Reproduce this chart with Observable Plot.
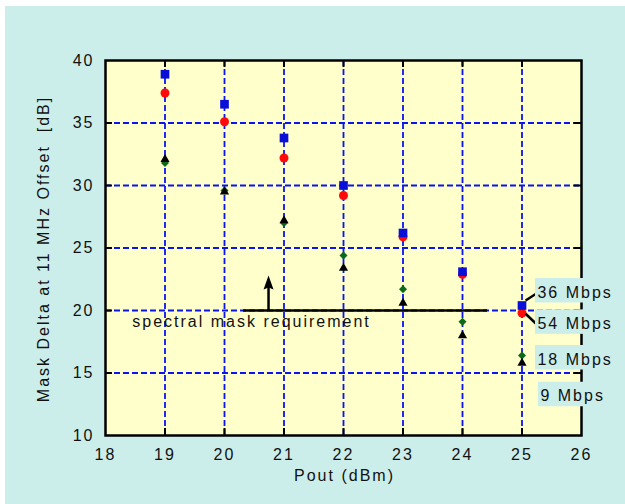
<!DOCTYPE html>
<html><head><meta charset="utf-8">
<script src="https://cdn.jsdelivr.net/npm/d3@7"></script>
<script src="https://cdn.jsdelivr.net/npm/@observablehq/plot@0.6"></script>
<style>
html,body{margin:0;padding:0;background:#fff;}
#wrap{position:relative;width:625px;height:504px;overflow:hidden;}
#bg{position:absolute;left:5px;top:6px;width:620px;height:498px;background:#CCEEEB;}
#chart{position:absolute;left:0;top:0;}
#chart svg text{letter-spacing:2px;white-space:pre;}
</style></head><body>
<div id="wrap"><div id="bg"></div><div id="chart"></div></div>
<script>
// ---- data ----
const pout   = [19, 20, 21, 22, 23, 24, 25];
const mbps36 = [38.9, 36.5, 33.8, 30.0, 26.2, 23.1, 20.4];
const mbps54 = [37.4, 35.1, 32.2, 29.2, 25.9, 22.9, 19.8];
const mbps18 = [31.8, 29.6, 27.0, 24.4, 21.7, 19.1, 16.4];
const mbps9  = [32.1, 29.5, 27.2, 23.4, 20.6, 18.0, 15.8];

const xTicks = [18, 19, 20, 21, 22, 23, 24, 25, 26];
const yTicks = [10, 15, 20, 25, 30, 35, 40];
const gridX  = [19, 20, 21, 22, 23, 24, 25];
const gridY  = [15, 20, 25, 30, 35];

const xTitle = "Pout (dBm)";
const yTitle = "Mask Delta at 11 MHz Offset  [dB]";

// spectral mask requirement annotation
const maskLevel = 20;
const maskSpan  = [20.32, 24.42];
const maskText  = "spectral mask requirement";
const maskTextAt = [18.45, 19.13];
const arrowX = 20.74, arrowTip = 22.8, arrowShaftTop = 22.0;

// rate labels
const rateLabels = ["36 Mbps", "54 Mbps", "18 Mbps", "9 Mbps"];
const rateLabelAt = [[25.26, 21.45], [25.26, 18.94], [25.26, 16.09], [25.31, 13.15]];
const leaders = [
  {x1: 25.06, y1: 20.80, x2: 25.25, y2: 21.38},
  {x1: 25.06, y1: 19.74, x2: 25.25, y2: 18.88}
];

const W = 625, H = 504, mL = 105, mR = 44, mT = 60, mB = 69;
const innerW = W - mL - mR, innerH = H - mT - mB, tickLen = 7;

const pts = (ys) => pout.map((x, i) => ({x, y: ys[i]}));

const headSymbol = {
  draw(context) {
    context.moveTo(0, 0);
    context.lineTo(-5, 14);
    context.lineTo(0, 12);
    context.lineTo(5, 14);
    context.closePath();
  }
};

const gridStyle = {stroke: "#0a14f0", strokeWidth: 1.8, strokeDasharray: "6,3"};
const tk = {stroke: "black", strokeWidth: 2};

const chart = Plot.plot({
  width: W, height: H,
  marginLeft: mL, marginRight: mR, marginTop: mT, marginBottom: mB,
  style: {background: "transparent", fontFamily: "'Liberation Sans', Arial, sans-serif", fontSize: "16px", color: "#111", overflow: "visible"},
  x: {domain: [18, 26]},
  y: {domain: [10, 40]},
  marks: [
    Plot.frame({fill: "#FFFFCC", stroke: "none"}),
    Plot.ruleX(gridX, gridStyle),
    Plot.ruleY(gridY, gridStyle),
    // inward tick marks
    Plot.tickX(gridX, {x: d => d, insetTop: innerH - tickLen, ...tk}),
    Plot.tickX(gridX, {x: d => d, insetBottom: innerH - tickLen, ...tk}),
    Plot.tickY(gridY, {y: d => d, insetRight: innerW - tickLen, ...tk}),
    Plot.tickY(gridY, {y: d => d, insetLeft: innerW - tickLen, ...tk}),
    Plot.axisX(xTicks, {anchor: "bottom", tickSize: 0, tickPadding: 13, label: null, fontSize: 16, fill: "#111"}),
    Plot.axisY(yTicks, {anchor: "left", tickSize: 0, tickPadding: 11, label: null, fontSize: 16, fill: "#111"}),
    Plot.text([xTitle], {frameAnchor: "bottom", textAnchor: "middle", dy: 45, dx: 1, fontSize: 16, fill: "#111"}),
    Plot.text([yTitle], {frameAnchor: "left", textAnchor: "middle", lineAnchor: "middle", rotate: -90, dx: -62, dy: 1, fontSize: 16, fill: "#111"}),
    Plot.frame({fill: "none", stroke: "black", strokeWidth: 2.5}),
    // mask requirement
    Plot.ruleY([maskLevel], {x1: maskSpan[0], x2: maskSpan[1], stroke: "black", strokeWidth: 2.5}),
    Plot.ruleX([arrowX], {y1: maskLevel, y2: arrowShaftTop, stroke: "black", strokeWidth: 2.5}),
    Plot.dot([{x: arrowX, y: arrowTip}], {x: "x", y: "y", r: 1, symbol: headSymbol, fill: "black", stroke: "none"}),
    Plot.text([maskText], {x: maskTextAt[0], y: maskTextAt[1], textAnchor: "start", lineAnchor: "middle", fontSize: 16, fill: "#111"}),
    // data
    Plot.dot(pts(mbps54), {x: "x", y: "y", r: 4.5, symbol: "circle", fill: "#ff0a0a", stroke: "none"}),
    Plot.dot(pts(mbps36), {x: "x", y: "y", r: 4.9, symbol: "square", fill: "#0a0fd8", stroke: "none"}),
    Plot.dot(pts(mbps18), {x: "x", y: "y", r: 3.6, symbol: "diamond2", fill: "#0b6a18", stroke: "none"}),
    Plot.dot(pts(mbps9),  {x: "x", y: "y", r: 3.4, symbol: "triangle", fill: "black", stroke: "none"}),
    // leaders & labels
    Plot.link(leaders, {x1: "x1", y1: "y1", x2: "x2", y2: "y2", stroke: "black", strokeWidth: 2.5}),
    Plot.text(rateLabels, {x: (d, i) => rateLabelAt[i][0], y: (d, i) => rateLabelAt[i][1], text: d => d,
      textAnchor: "start", lineAnchor: "middle", fontSize: 16, fill: "#111"})
  ]
});

document.getElementById("chart").appendChild(chart);

// background boxes behind rate labels
chart.querySelectorAll("text").forEach(t => {
  if (!rateLabels.includes(t.textContent.trim())) return;
  const b = t.getBBox();
  const r = document.createElementNS("http://www.w3.org/2000/svg", "rect");
  r.setAttribute("x", b.x - 2.5);
  r.setAttribute("y", b.y - 5.5);
  r.setAttribute("width", b.width + 6.5);
  r.setAttribute("height", b.height + 7.5);
  r.setAttribute("fill", "#CCEEEB");
  r.setAttribute("stroke", "none");
  const tr = t.getAttribute("transform");
  if (tr) r.setAttribute("transform", tr);
  t.parentNode.insertBefore(r, t);
});
</script>
</body></html>
